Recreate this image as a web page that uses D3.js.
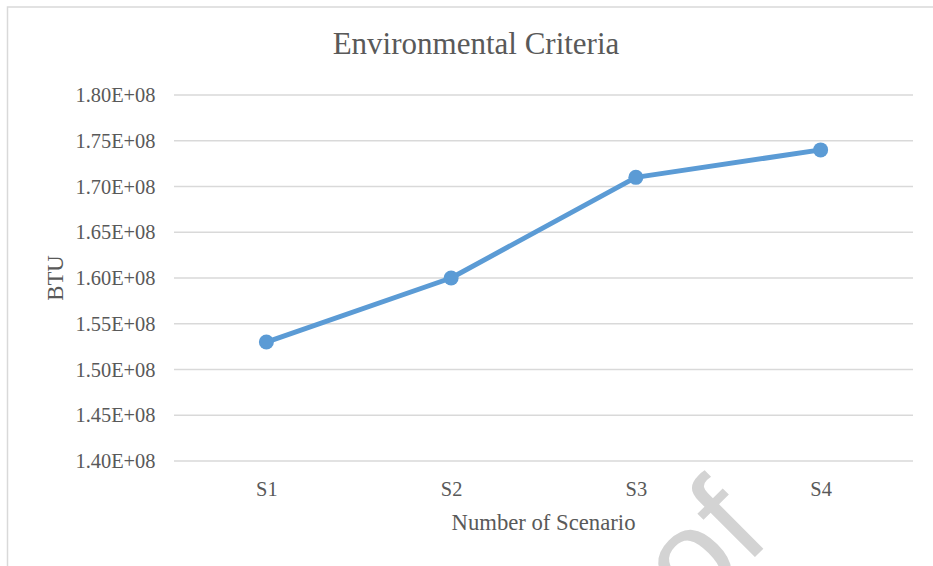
<!DOCTYPE html>
<html>
<head>
<meta charset="utf-8">
<script src="https://cdn.jsdelivr.net/npm/d3@7"></script>
<style>
  html, body { margin: 0; padding: 0; background: #ffffff; }
  svg { display: block; }
</style>
</head>
<body>
<svg id="chart" width="933" height="566"></svg>
<script>
// Scenario energy use (BTU)
const scenarios = ["S1", "S2", "S3", "S4"];
const btuValues = [1.53e8, 1.60e8, 1.71e8, 1.74e8];
const yTickValues = [1.40e8, 1.45e8, 1.50e8, 1.55e8, 1.60e8, 1.65e8, 1.70e8, 1.75e8, 1.80e8];

const chartTitle = "Environmental Criteria";
const xTitle = "Number of Scenario";
const yTitle = "BTU";

const W = 933, H = 566;
const plot = { left: 174, right: 913, top: 95, bottom: 461 };
const textColor = "#595959";
const gridColor = "#d9d9d9";
const lineColor = "#5b9bd5";
const serif = "'Liberation Serif', 'Times New Roman', serif";

const svg = d3.select("#chart");

// Excel-style scientific notation, e.g. 1.80E+08
function sci(v) {
  const exp = Math.floor(Math.log10(Math.abs(v)));
  const mant = v / Math.pow(10, exp);
  return mant.toFixed(2) + "E+" + String(exp).padStart(2, "0");
}

// Chart area outline
svg.append("rect")
  .attr("x", 7.5).attr("y", 7)
  .attr("width", 960).attr("height", 600)
  .attr("fill", "#ffffff")
  .attr("stroke", gridColor).attr("stroke-width", 1.5);

const x = d3.scalePoint()
  .domain(scenarios)
  .range([plot.left, plot.right])
  .padding(0.5);

const y = d3.scaleLinear()
  .domain([1.40e8, 1.80e8])
  .range([plot.bottom, plot.top]);

// Horizontal gridlines
svg.append("g")
  .selectAll("line")
  .data(yTickValues)
  .join("line")
  .attr("x1", plot.left).attr("x2", plot.right)
  .attr("y1", d => y(d)).attr("y2", d => y(d))
  .attr("stroke", gridColor).attr("stroke-width", 1.5);

// Y axis labels
const yAxis = svg.append("g")
  .attr("transform", `translate(${plot.left},0)`)
  .call(d3.axisLeft(y).tickValues(yTickValues).tickFormat(sci).tickSize(0).tickPadding(18.5));
yAxis.select(".domain").remove();
yAxis.selectAll("text")
  .attr("fill", textColor)
  .style("font-family", serif)
  .style("font-size", "20.4px");

// X axis labels
const xAxis = svg.append("g")
  .attr("transform", `translate(0,${plot.bottom})`)
  .call(d3.axisBottom(x).tickSize(0).tickPadding(20.5));
xAxis.select(".domain").remove();
xAxis.selectAll("text")
  .attr("fill", textColor)
  .style("font-family", serif)
  .style("font-size", "20.4px");

// Series line
const line = d3.line()
  .x((d, i) => x(scenarios[i]))
  .y(d => y(d));

svg.append("path")
  .datum(btuValues)
  .attr("d", line)
  .attr("fill", "none")
  .attr("stroke", lineColor)
  .attr("stroke-width", 5)
  .attr("stroke-linejoin", "round")
  .attr("stroke-linecap", "round");

svg.append("g")
  .selectAll("circle")
  .data(btuValues)
  .join("circle")
  .attr("cx", (d, i) => x(scenarios[i]))
  .attr("cy", d => y(d))
  .attr("r", 7.5)
  .attr("fill", lineColor);

// Titles
svg.append("text")
  .attr("x", 476).attr("y", 54)
  .attr("text-anchor", "middle")
  .attr("fill", textColor)
  .style("font-family", serif)
  .style("font-size", "31px")
  .text(chartTitle);

svg.append("text")
  .attr("x", (plot.left + plot.right) / 2).attr("y", 530)
  .attr("text-anchor", "middle")
  .attr("fill", textColor)
  .style("font-family", serif)
  .style("font-size", "22.7px")
  .text(xTitle);

svg.append("text")
  .attr("transform", `translate(62.7,${(plot.top + plot.bottom) / 2}) rotate(-90)`)
  .attr("text-anchor", "middle")
  .attr("fill", textColor)
  .style("font-family", serif)
  .style("font-size", "22.7px")
  .text(yTitle);

// Page watermark
svg.append("text")
  .attr("transform", "translate(773,539) rotate(-45)")
  .attr("text-anchor", "end")
  .attr("fill", "#d3d3d3")
  .style("font-family", "'Liberation Sans', Arial, sans-serif")
  .style("font-size", "135px")
  .text("Proof");
</script>
</body>
</html>
